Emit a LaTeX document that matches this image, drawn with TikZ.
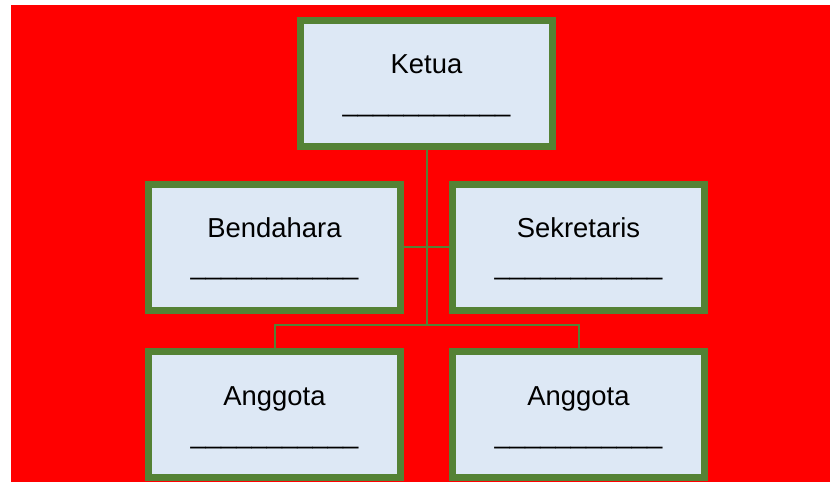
\documentclass[tikz,border=0pt]{standalone}
\usepackage{fontspec}
\setmainfont{Liberation Sans}
\definecolor{bggreen}{HTML}{548235}
\definecolor{boxblue}{HTML}{DDE8F5}
\definecolor{bgred}{HTML}{FF0000}
\begin{document}
\begin{tikzpicture}[x=1pt,y=-1pt,
  box/.style={draw=bggreen,line width=7pt,fill=boxblue,minimum width=252pt,minimum height=126pt,inner sep=0pt,outer sep=0pt},
  lbl/.style={anchor=base,inner sep=0pt,font=\fontsize{27.4}{33}\selectfont},
  conn/.style={draw=bggreen,line width=2pt}]
\useasboundingbox (0,0) rectangle (830,482);
\fill[bgred] (11,5) rectangle (830,482);
\node[box] (k) at (426.5,83.5) {};
\node[box] (b) at (274.5,247) {};
\node[box] (s) at (578.5,247) {};
\node[box] (a1) at (274.5,414.5) {};
\node[box] (a2) at (578.5,414.5) {};
\coordinate (j) at (426.5,325);
\draw[conn] (k.south) -- (j);
\draw[conn] (b.east) -- (s.west);
\draw[conn] (a1.north) |- (j) -| (a2.north);
\node[lbl] (kt) at (426.5,73) {Ketua};
\node[lbl] (ku) at (426.5,111) {\_\_\_\_\_\_\_\_\_\_\_};
\node[lbl] (bt) at (274.5,237) {Bendahara};
\node[lbl] (bu) at (274.5,274) {\_\_\_\_\_\_\_\_\_\_\_};
\node[lbl] (st) at (578.5,237) {Sekretaris};
\node[lbl] (su) at (578.5,274) {\_\_\_\_\_\_\_\_\_\_\_};
\node[lbl] (a1t) at (274.5,405) {Anggota};
\node[lbl] (a1u) at (274.5,443) {\_\_\_\_\_\_\_\_\_\_\_};
\node[lbl] (a2t) at (578.5,405) {Anggota};
\node[lbl] (a2u) at (578.5,443) {\_\_\_\_\_\_\_\_\_\_\_};
\end{tikzpicture}
\end{document}
